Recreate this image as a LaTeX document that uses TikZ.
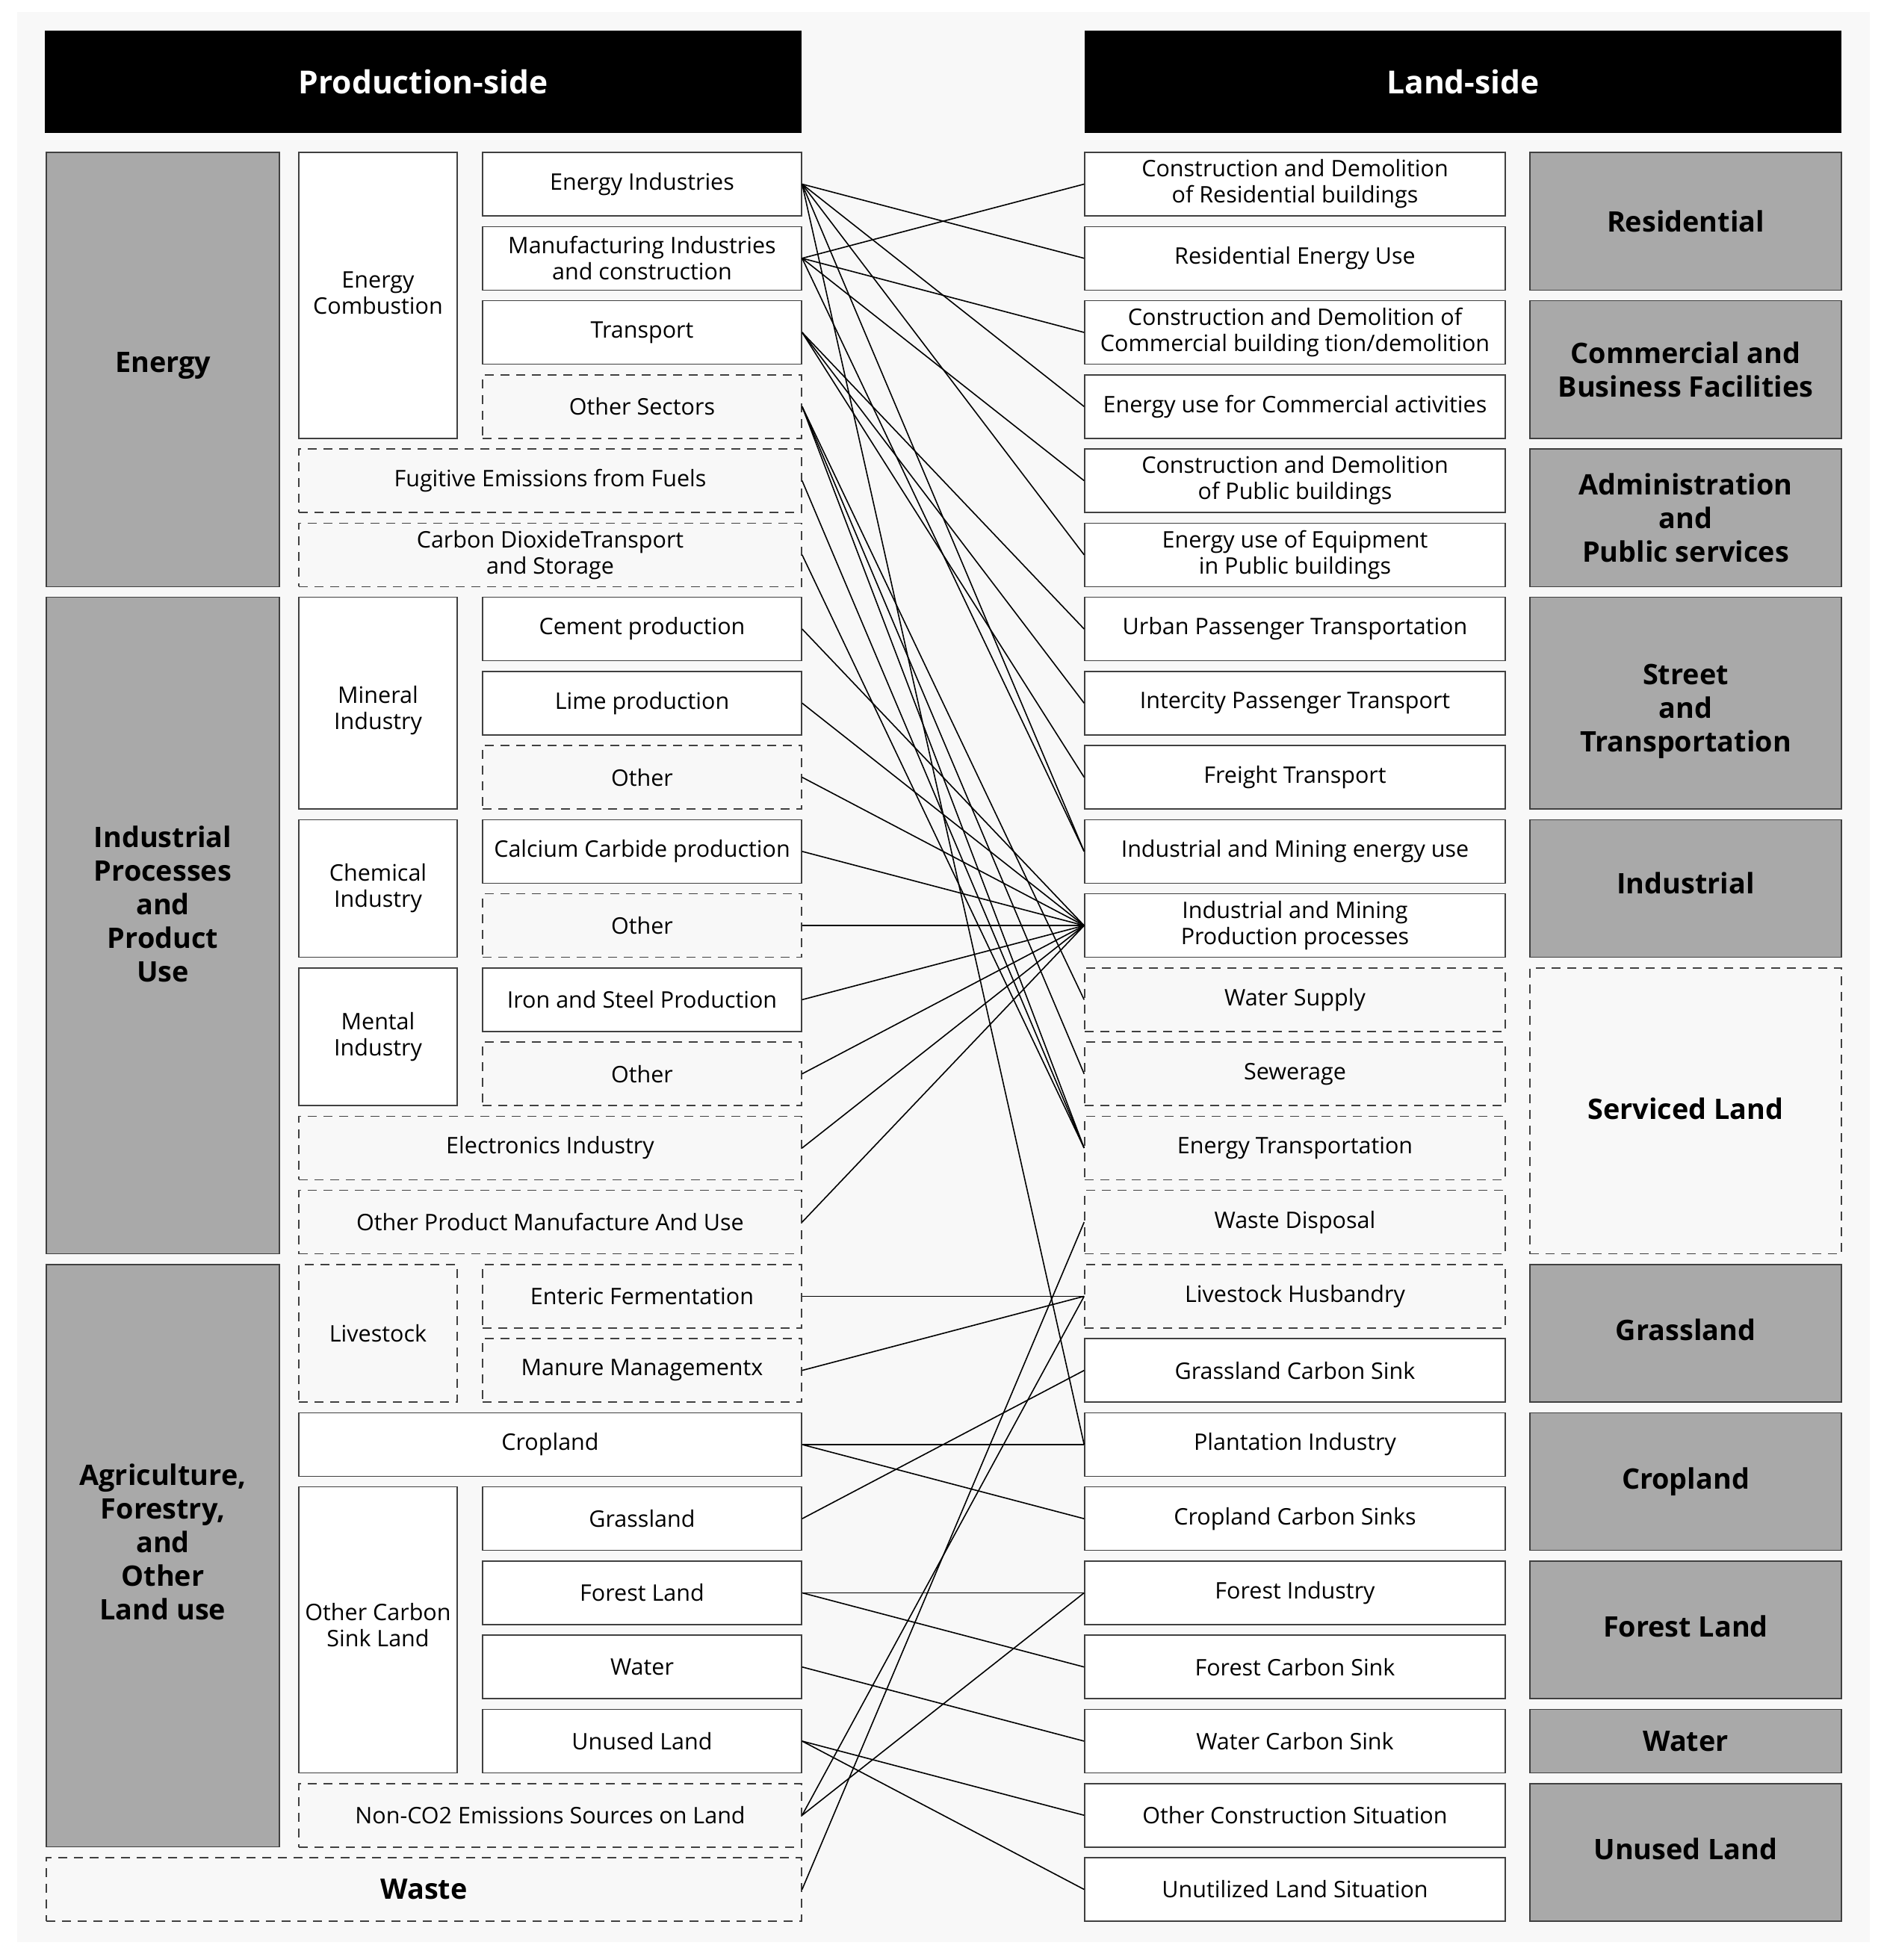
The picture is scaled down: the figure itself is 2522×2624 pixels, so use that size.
\documentclass[tikz,border=0pt]{standalone}
\usepackage{fontspec}
\setmainfont{Open Sans}
\definecolor{panel}{HTML}{F8F8F8}
\definecolor{catgray}{HTML}{A9A9A9}
\definecolor{edge}{HTML}{404040}
% struts that push a label off the box centre
\newcommand{\lift}[1]{\rule[-#1]{0pt}{#1}}
\newcommand{\drop}[1]{\rule{0pt}{#1}}
\begin{document}
\begin{tikzpicture}[
	x=1pt,y=-1pt,
	font=\fontsize{30.5}{35}\selectfont,
	box/.style={draw=edge,line width=1.5pt,fill=white,align=center,inner sep=0pt,minimum height=85pt},
	dbox/.style={box,fill=panel,dash pattern=on 12pt off 9pt},
	cat/.style={box,fill=catgray,font=\fontsize{37.8}{45}\selectfont\bfseries},
	head/.style={fill=black,text=white,inner sep=0pt,minimum width=1013pt,minimum height=137pt,font=\fontsize{42.5}{50}\selectfont\bfseries},
	lcat/.style={minimum width=312pt},
	mid/.style={minimum width=212pt},
	sub/.style={minimum width=427pt},
	wide/.style={minimum width=673pt},
	rit/.style={minimum width=563pt},
	rcat/.style={minimum width=417pt},
	link/.style={line width=1.6pt},
	]
\path[use as bounding box] (0,0) rectangle (2522,2624);
\fill[panel] (23,16) rectangle (2503,2600);

% headers
\node[head] (prod) at (566.5,109.5) {Production-side};
\node[head] (land) at (1958.5,109.5) {Land-side};

% production side
\node[cat,lcat,minimum height=581.3pt] (energy) at (218,494.65) {Energy\lift{20pt}};
\node[cat,lcat,minimum height=879.1pt] (ippu) at (218,1239.1) {Industrial\\Processes\\and\\Product\\Use\lift{58pt}};
\node[cat,lcat,minimum height=779.8pt] (afolu) at (218,2082.81) {Agriculture,\\Forestry,\\and\\Other\\Land use\lift{37pt}};
\node[box,mid,minimum height=382.8pt] (comb) at (506,395.39) {Energy\\Combustion\lift{6pt}};
\node[box,mid,minimum height=283.5pt] (miner) at (506,941.32) {\drop{42pt}Mineral\\Industry};
\node[box,mid,minimum height=184.3pt] (chem) at (506,1189.47) {Chemical\\Industry};
\node[box,mid,minimum height=184.3pt] (metal) at (506,1387.99) {Mental\\Industry};
\node[dbox,mid,minimum height=184.3pt] (stock) at (506,1785.03) {Livestock};
\node[box,mid,minimum height=382.8pt] (sink) at (506,2182.07) {Other Carbon\\Sink Land\lift{14pt}};

\node[box,sub] (p0) at (859.5,246.5) {Energy Industries};
\node[box,sub] (p1) at (859.5,345.76) {Manufacturing Industries\\and construction};
\node[box,sub] (p2) at (859.5,445.02) {Transport};
\node[dbox,sub] (p3) at (859.5,544.28) {Other Sectors};
\node[dbox,wide] (p4) at (736.5,643.54) {Fugitive Emissions from Fuels};
\node[dbox,wide] (p5) at (736.5,742.8) {Carbon DioxideTransport\\and Storage};
\node[box,sub] (p6) at (859.5,842.06) {Cement production};
\node[box,sub] (p7) at (859.5,941.32) {Lime production};
\node[dbox,sub] (p8) at (859.5,1040.58) {Other};
\node[box,sub] (p9) at (859.5,1139.84) {Calcium Carbide production};
\node[dbox,sub] (p10) at (859.5,1239.1) {Other};
\node[box,sub] (p11) at (859.5,1338.36) {Iron and Steel Production};
\node[dbox,sub] (p12) at (859.5,1437.62) {Other};
\node[dbox,wide] (p13) at (736.5,1536.88) {Electronics Industry};
\node[dbox,wide] (p14) at (736.5,1636.14) {Other Product Manufacture And Use};
\node[dbox,sub] (p15) at (859.5,1735.4) {Enteric Fermentation};
\node[dbox,sub] (p16) at (859.5,1834.66) {Manure Managementx};
\node[box,wide] (p17) at (736.5,1933.92) {Cropland};
\node[box,sub] (p18) at (859.5,2033.18) {Grassland};
\node[box,sub] (p19) at (859.5,2132.44) {Forest Land};
\node[box,sub] (p20) at (859.5,2231.7) {Water};
\node[box,sub] (p21) at (859.5,2330.96) {Unused Land};
\node[dbox,wide] (p22) at (736.5,2430.22) {Non-CO2 Emissions Sources on Land};
\node[dbox,minimum width=1011pt,font=\fontsize{37.8}{45}\selectfont\bfseries] (p23) at (567.5,2529.48) {Waste};

% land side
\node[box,rit] (q0) at (1733.5,246.5) {Construction and Demolition\\of Residential buildings};
\node[box,rit] (q1) at (1733.5,345.76) {Residential Energy Use};
\node[box,rit] (q2) at (1733.5,445.02) {Construction and Demolition of\\Commercial building tion/demolition};
\node[box,rit] (q3) at (1733.5,544.28) {Energy use for Commercial activities};
\node[box,rit] (q4) at (1733.5,643.54) {Construction and Demolition\\of Public buildings};
\node[box,rit] (q5) at (1733.5,742.8) {Energy use of Equipment\\in Public buildings};
\node[box,rit] (q6) at (1733.5,842.06) {Urban Passenger Transportation};
\node[box,rit] (q7) at (1733.5,941.32) {Intercity Passenger Transport};
\node[box,rit] (q8) at (1733.5,1040.58) {Freight Transport};
\node[box,rit] (q9) at (1733.5,1139.84) {Industrial and Mining energy use};
\node[box,rit] (q10) at (1733.5,1239.1) {Industrial and Mining\\Production processes};
\node[dbox,rit] (q11) at (1733.5,1338.36) {Water Supply};
\node[dbox,rit] (q12) at (1733.5,1437.62) {Sewerage};
\node[dbox,rit] (q13) at (1733.5,1536.88) {Energy Transportation};
\node[dbox,rit] (q14) at (1733.5,1636.14) {Waste Disposal};
\node[dbox,rit] (q15) at (1733.5,1735.4) {Livestock Husbandry};
\node[box,rit] (q16) at (1733.5,1834.66) {Grassland Carbon Sink};
\node[box,rit] (q17) at (1733.5,1933.92) {Plantation Industry};
\node[box,rit] (q18) at (1733.5,2033.18) {Cropland Carbon Sinks};
\node[box,rit] (q19) at (1733.5,2132.44) {Forest Industry};
\node[box,rit] (q20) at (1733.5,2231.7) {Forest Carbon Sink};
\node[box,rit] (q21) at (1733.5,2330.96) {Water Carbon Sink};
\node[box,rit] (q22) at (1733.5,2430.22) {Other Construction Situation};
\node[box,rit] (q23) at (1733.5,2529.48) {Unutilized Land Situation};

\node[cat,rcat,minimum height=184.3pt] (resid) at (2256.5,296.13) {Residential};
\node[cat,rcat,minimum height=184.3pt] (comm) at (2256.5,494.65) {Commercial and\\Business Facilities};
\node[cat,rcat,minimum height=184.3pt] (admin) at (2256.5,693.17) {Administration\\and\\Public services};
\node[cat,rcat,minimum height=283.5pt] (street) at (2256.5,941.32) {\drop{49pt}Street\\and\\Transportation};
\node[cat,rcat,minimum height=184.3pt] (indus) at (2256.5,1189.47) {Industrial\lift{14pt}};
\node[cat,rcat,dbox,font=\fontsize{37.8}{45}\selectfont\bfseries,minimum height=382.8pt] (serv) at (2256.5,1487.25) {Serviced Land\lift{6pt}};
\node[cat,rcat,minimum height=184.3pt] (grass) at (2256.5,1785.03) {Grassland\lift{10pt}};
\node[cat,rcat,minimum height=184.3pt] (crop) at (2256.5,1983.55) {Cropland};
\node[cat,rcat,minimum height=184.3pt] (forest) at (2256.5,2182.07) {Forest Land\lift{10pt}};
\node[cat,rcat] (water) at (2256.5,2330.96) {Water};
\node[cat,rcat,minimum height=184.3pt] (unused) at (2256.5,2479.87) {Unused Land\lift{10pt}};

% links
\foreach \a/\b in {p0/q1,p0/q3,p0/q5,p0/q9,p0/q17,p1/q0,p1/q2,p1/q4,p1/q9,
	p2/q6,p2/q7,p2/q8,p3/q11,p3/q12,p3/q13,p4/q13,p5/q13,
	p6/q10,p7/q10,p8/q10,p9/q10,p10/q10,p11/q10,p12/q10,p13/q10,p14/q10,
	p15/q15,p16/q15,p17/q17,p17/q18,p18/q16,p19/q19,p19/q20,p20/q21,
	p21/q22,p21/q23,p22/q15,p22/q19,p23/q14}
	\draw[link] (\a.east) -- (\b.west);
\end{tikzpicture}
\end{document}
